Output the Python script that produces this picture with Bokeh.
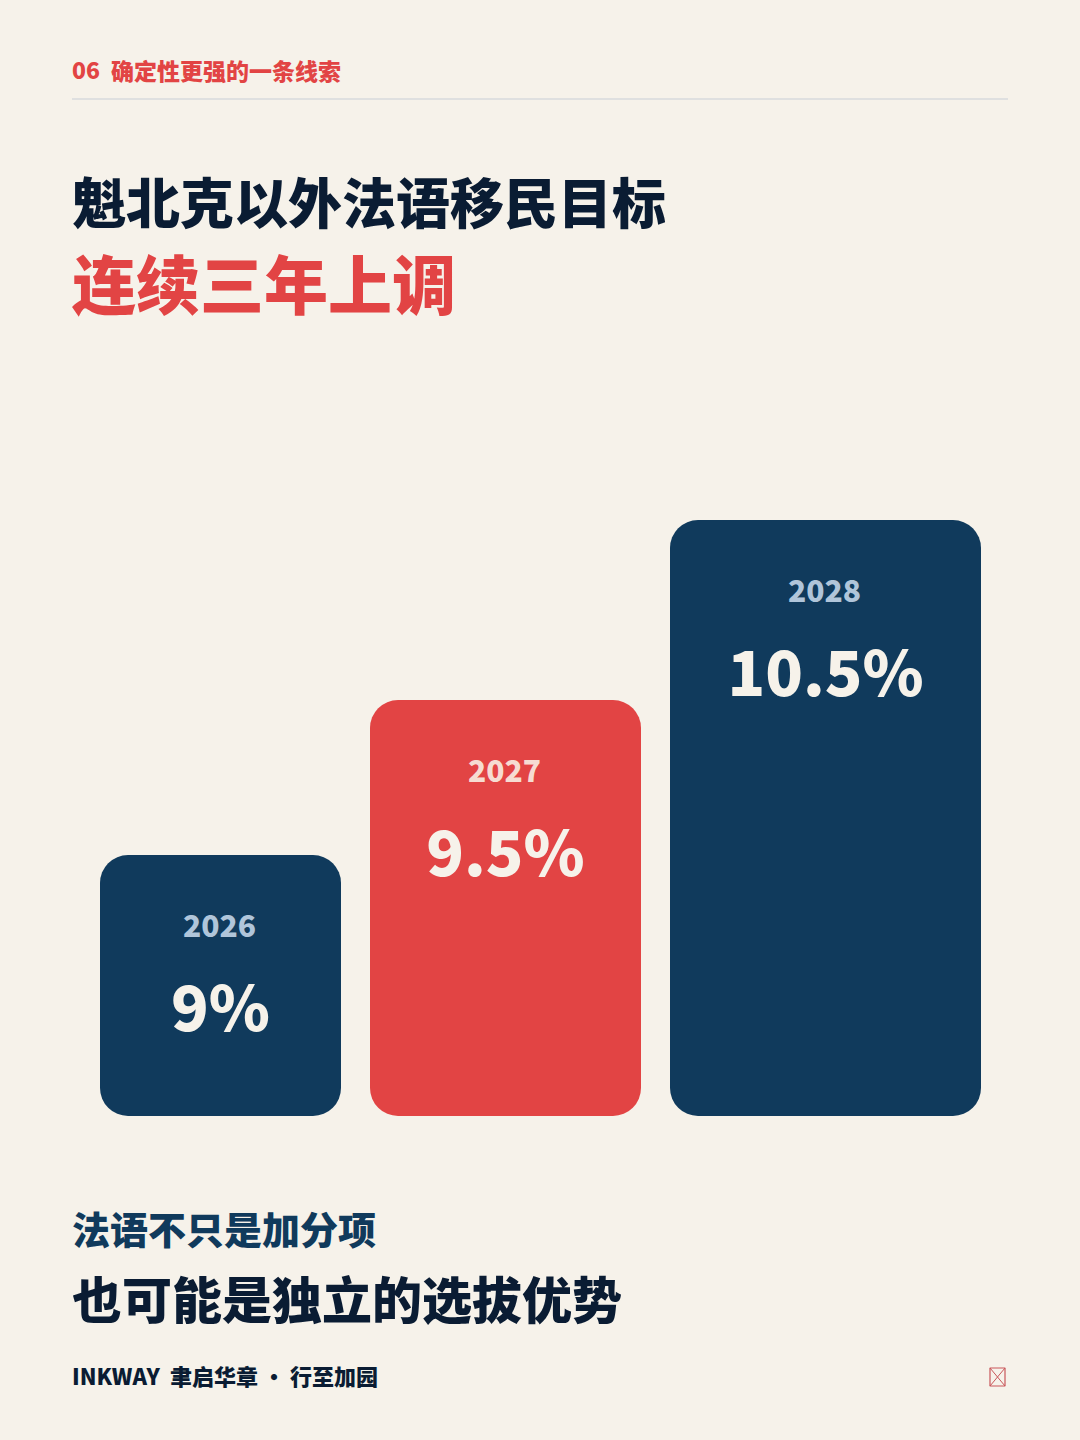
"""Quebec-excluded francophone immigration targets, poster style bar chart."""

from bokeh.core.properties import value
from bokeh.embed import file_html
from bokeh.models import ColumnDataSource, Range1d
from bokeh.plotting import figure
from bokeh.resources import INLINE

# ---------------------------------------------------------------------------
# Data
# ---------------------------------------------------------------------------
years = ["2026", "2027", "2028"]
targets = ["9%", "9.5%", "10.5%"]
bar_left = [100, 370, 670]
bar_right = [341, 641, 981]
bar_top = [855, 700, 520]
bar_colors = ["#103a5c", "#e24444", "#103a5c"]
year_colors = ["#b0c5da", "#f6dcd2", "#b0c5da"]

PAGE_W, PAGE_H = 1080, 1440
MARGIN = 8
BASE = 1116
FONT = "Noto Sans CJK SC Black"

BG = "#f6f2ea"
NAVY = "#0a1c33"
BLUE = "#103a5c"
RED = "#e24444"

p = figure(
    width=PAGE_W - 2 * MARGIN, height=PAGE_H - 2 * MARGIN,
    x_range=Range1d(0.5, PAGE_W - 2 * MARGIN + 0.5),
    y_range=Range1d(PAGE_H - 2 * MARGIN + 0.5, 0.5),
    output_backend="svg", toolbar_location=None,
    x_axis_type=None, y_axis_type=None,
    background_fill_color=BG, border_fill_color=BG,
    min_border=0, outline_line_color=None,
)
p.grid.visible = False


def label(x, y, text, size, color, align="left"):
    p.text(x=[x], y=[y], text=[text], text_font=value(FONT),
           text_font_style="bold", text_font_size=f"{size}px",
           text_color=color, text_align=align, text_baseline="alphabetic")


# header
label(72, 70, "06", 23, RED)
label(111, 70, "确定性更强的一条线索", 23, RED)
p.segment(x0=[72], y0=[99], x1=[1008], y1=[99], line_color="#dfe0e0", line_width=2)

# title
label(72, 200, "魁北克以外法语移民目标", 54, NAVY)
label(72, 281, "连续三年上调", 64, RED)

# bars
source = ColumnDataSource(dict(
    left=bar_left, right=bar_right, top=bar_top, bottom=[BASE] * len(years),
    color=bar_colors,
))
p.quad(left="left", right="right", top="top", bottom="bottom", source=source,
       fill_color="color", line_color=None, border_radius=28)

for i, year in enumerate(years):
    mid = (bar_left[i] + bar_right[i]) / 2
    label(mid - 1, bar_top[i] + 71, year, 30, year_colors[i], "center")
    label(mid, bar_top[i] + 149, targets[i], 62, BG, "center")

# closing lines
label(72, 1227, "法语不只是加分项", 38, BLUE)
label(72, 1297, "也可能是独立的选拔优势", 50, NAVY)

# footer
label(72, 1375, "INKWAY", 22, NAVY)
label(170, 1375, "聿启华章", 22, NAVY)
label(274, 1375, "·", 22, NAVY, "center")
label(290, 1375, "行至加园", 22, NAVY)

# missing-glyph box in the corner
p.quad(left=[990], right=[1005], top=[1368], bottom=[1386],
       fill_color=None, line_color="#c9575a", line_width=1.2)
p.segment(x0=[990, 1005], y0=[1368, 1368], x1=[1005, 990], y1=[1386, 1386],
          line_color="#c9575a", line_width=1)

html = file_html(p, INLINE).replace("<body>", f'<body style="background:{BG}">')
open("out.html", "w").write(html)
